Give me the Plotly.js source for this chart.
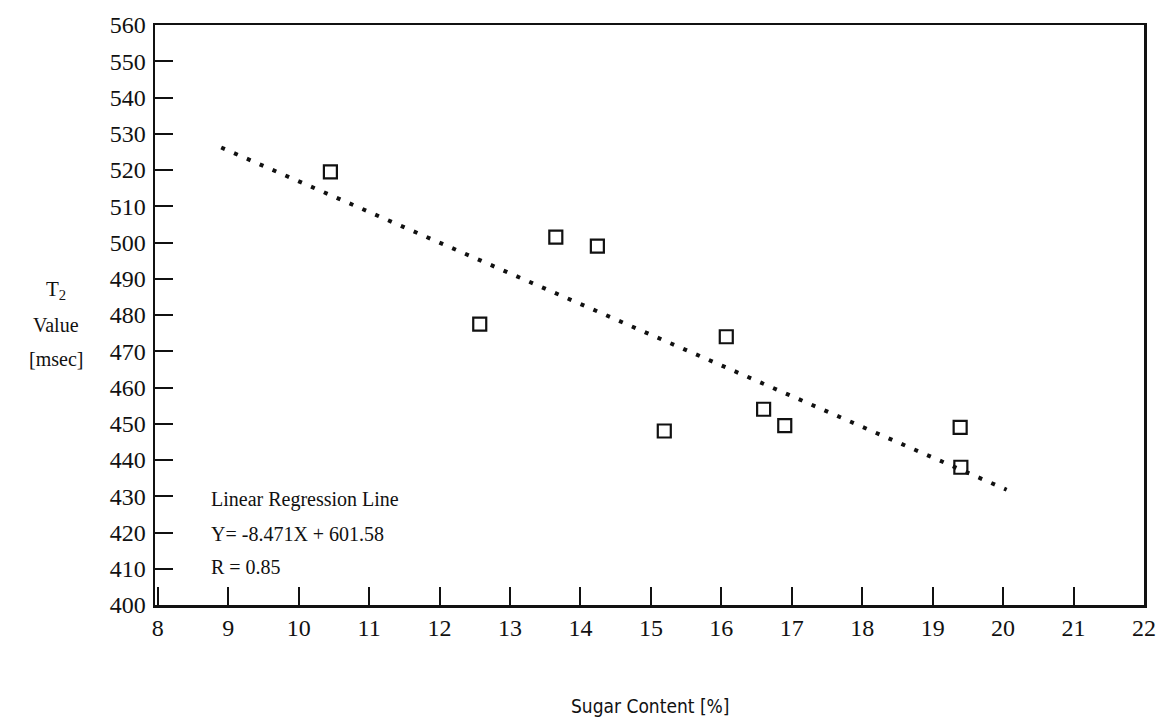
<!DOCTYPE html>
<html>
<head>
<meta charset="utf-8">
<script src="https://cdn.plot.ly/plotly-3.0.1.min.js"></script>
<style>html,body{margin:0;padding:0;background:#fff;}#chart{width:1163px;height:718px;}</style>
</head>
<body>
<div id="chart"></div>
<script>
// Measured samples: sugar content [%] and T2 value [msec]
const sugarContent = [10.45, 12.57, 13.65, 14.24, 15.19, 16.07, 16.6, 16.9, 19.39, 19.4];
const t2Value      = [519.5, 477.5, 501.5, 499.0, 448.0, 474.0, 454.0, 449.5, 449.0, 438.0];

// Regression line end points as drawn (Y = -8.471X + 601.58)
const regX = [8.9, 20.05];
const regY = [526.2, 431.8];

const xTicks = [8, 9, 10, 11, 12, 13, 14, 15, 16, 17, 18, 19, 20, 21, 22];
const yTicks = [400, 410, 420, 430, 440, 450, 460, 470, 480, 490, 500, 510, 520, 530, 540, 550, 560];

const noteLines = ["Linear Regression Line", "Y= -8.471X + 601.58", "R = 0.85"];

const serif = "Liberation Serif, Times New Roman, serif";

const traces = [
  {
    x: regX, y: regY, type: "scatter", mode: "lines",
    line: {color: "#111", width: 4, dash: "4px,10px"},
    hoverinfo: "skip", showlegend: false
  },
  {
    x: sugarContent, y: t2Value, type: "scatter", mode: "markers",
    marker: {symbol: "square-open", size: 13, color: "#111", line: {width: 2.2, color: "#111"}},
    showlegend: false
  }
];

const axisCommon = {
  showgrid: false, zeroline: false, showline: true, linecolor: "#111", linewidth: 2.5,
  mirror: true, ticks: "inside", ticklen: 18, tickwidth: 2, tickcolor: "#111",
  tickfont: {family: serif, size: 24, color: "#111"}
};

const annotations = noteLines.map((t, i) => ({
  text: t, xref: "x", yref: "y", x: 8.72, y: 429 - i * 9.3, xanchor: "left", yanchor: "middle",
  showarrow: false, font: {family: serif, size: 20, color: "#111"}
}));

annotations.push(
  {text: "T<sub>2</sub>", xref: "paper", yref: "y", x: -0.1, y: 487, xanchor: "center", yanchor: "middle",
   showarrow: false, font: {family: serif, size: 21, color: "#111"}},
  {text: "Value", xref: "paper", yref: "y", x: -0.1, y: 477.2, xanchor: "center", yanchor: "middle",
   showarrow: false, font: {family: serif, size: 20, color: "#111"}},
  {text: "[msec]", xref: "paper", yref: "y", x: -0.1, y: 468, xanchor: "center", yanchor: "middle",
   showarrow: false, font: {family: serif, size: 20, color: "#111"}},
  {text: "Sugar Content [%]", xref: "paper", yref: "paper", x: 0.5, y: -0.174, xanchor: "center", yanchor: "middle",
   showarrow: false, font: {family: "DejaVu Sans Condensed, DejaVu Sans, sans-serif", size: 19, color: "#111"}}
);

const layout = {
  width: 1163, height: 718,
  margin: {l: 155, r: 19, t: 25, b: 113, pad: 0},
  paper_bgcolor: "#fff", plot_bgcolor: "#fff",
  xaxis: Object.assign({}, axisCommon, {range: [7.96, 22], tickvals: xTicks, ticktext: xTicks.map(String), ticklabelstandoff: 0}),
  yaxis: Object.assign({}, axisCommon, {range: [400, 560], tickvals: yTicks, ticktext: yTicks.map(String), ticklabelstandoff: 2}),
  annotations: annotations
};

Plotly.newPlot("chart", traces, layout, {staticPlot: true});
</script>
</body>
</html>
